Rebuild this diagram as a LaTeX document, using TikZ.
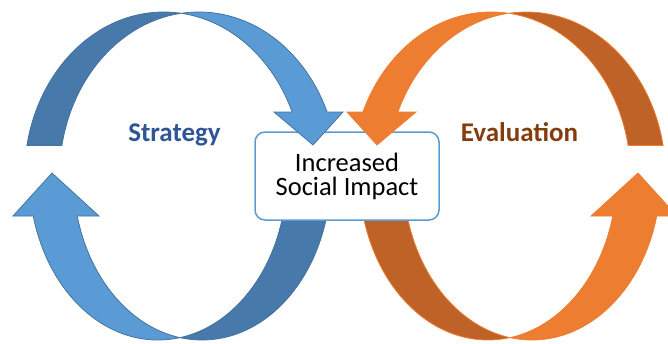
\documentclass[tikz,border=0pt]{standalone}
\usepackage{fontspec}
\setmainfont{Carlito}
\definecolor{blight}{HTML}{5B9BD5}
\definecolor{bdark}{HTML}{477AAB}
\definecolor{bline}{HTML}{41719C}
\definecolor{olight}{HTML}{ED7D31}
\definecolor{odark}{HTML}{BF6228}
\definecolor{oline}{HTML}{ED7D31}
\definecolor{strat}{HTML}{2F5597}
\definecolor{evalc}{HTML}{843C0C}
\tikzset{
  edge/.style={line width=0.75pt, line join=miter},
  lbl/.style={font=\bfseries\fontsize{27}{27}\selectfont, anchor=base, inner sep=0pt},
  centerbox/.style={draw=blight, line width=1.5pt, fill=white, rounded corners=10pt,
    minimum width=184pt, minimum height=88pt, inner sep=0pt, align=center,
    font=\fontsize{26.5}{24}\selectfont}
}
\newcommand\loopLower[3]{%
  \begin{scope}
    \clip (0,215) rectangle (180,343);
    \fill[#1,even odd rule] (158,176) ellipse[x radius=128.6pt,y radius=164pt] (202,176) ellipse[x radius=128.6pt,y radius=164pt];
    \draw[#3,edge] (158,176) ellipse[x radius=128.6pt,y radius=164pt] (202,176) ellipse[x radius=128.6pt,y radius=164pt];
  \end{scope}
  \begin{scope}
    \clip (180,190) rectangle (400,343);
    \fill[#2,even odd rule] (158,176) ellipse[x radius=128.6pt,y radius=164pt] (202,176) ellipse[x radius=128.6pt,y radius=164pt];
    \draw[#3,edge] (158,176) ellipse[x radius=128.6pt,y radius=164pt] (202,176) ellipse[x radius=128.6pt,y radius=164pt];
  \end{scope}
  \fill[#1] (13,216) -- (99,216) -- (52,173) -- cycle;
  \draw[#3,edge] (34,216) -- (13,216) -- (52,173) -- (99,216) -- (77,216);
}
\newcommand\loopUpper[3]{%
  \begin{scope}
    \clip (0,0) rectangle (181.3,145);
    \fill[#2,even odd rule] (163.8,176) ellipse[x radius=139.3pt,y radius=164pt] (198.8,176) ellipse[x radius=139.3pt,y radius=164pt];
    \draw[#3,edge] (163.8,176) ellipse[x radius=139.3pt,y radius=164pt] (198.8,176) ellipse[x radius=139.3pt,y radius=164pt];
  \end{scope}
  \draw[#3,edge] (27,145) -- (62,145);
  \begin{scope}
    \clip (181.3,0) rectangle (400,112.5);
    \fill[#1,even odd rule] (163.8,176) ellipse[x radius=139.3pt,y radius=164pt] (198.8,176) ellipse[x radius=139.3pt,y radius=164pt];
    \draw[#3,edge] (163.8,176) ellipse[x radius=139.3pt,y radius=164pt] (198.8,176) ellipse[x radius=139.3pt,y radius=164pt];
  \end{scope}
  \fill[#1] (274,112) -- (343,112) -- (313,145) -- cycle;
  \draw[#3,edge] (292,112) -- (274,112) -- (313,145) -- (343,112) -- (327,112);
}
\begin{document}
\begin{tikzpicture}[x=1pt,y=-1pt]
\useasboundingbox (0,0) rectangle (668,343);
\clip (0,0) rectangle (668,343);
% lower halves
\loopLower{blight}{bdark}{bline}
\begin{scope}[xshift=690pt,xscale=-1]
  \loopLower{olight}{odark}{oline}
\end{scope}
% centre box
\node[centerbox] (box) at (347,176) {Increased\\Social Impact};
% upper halves
\loopUpper{blight}{bdark}{bline}
\begin{scope}[xshift=690pt,xscale=-1]
  \loopUpper{olight}{odark}{oline}
\end{scope}
% labels
\node[lbl, text=strat] (strategy) at (174.5,141) {Strategy};
\node[lbl, text=evalc] (evaluation) at (519.5,141) {Evaluation};
\end{tikzpicture}
\end{document}
